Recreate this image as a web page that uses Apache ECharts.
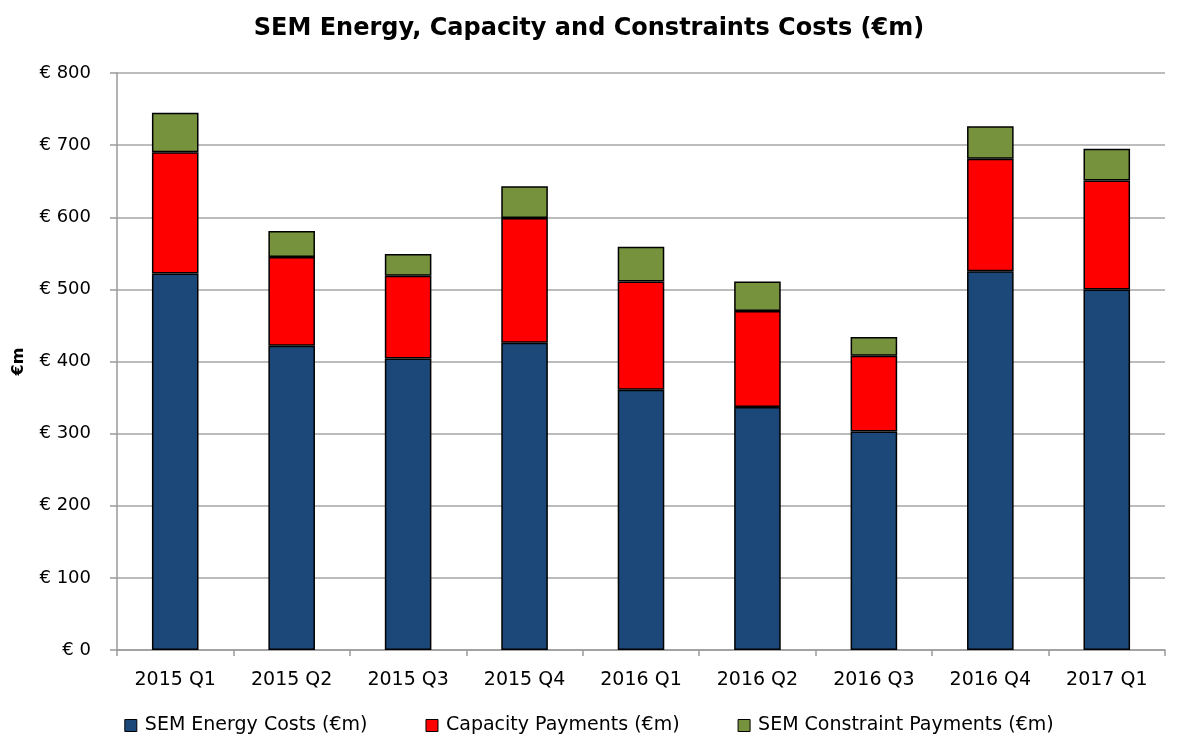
<!DOCTYPE html>
<html>
<head>
<meta charset="utf-8">
<script src="https://cdn.jsdelivr.net/npm/echarts@6/dist/echarts.min.js"></script>
<style>
  html, body { margin: 0; padding: 0; background: #fff; }
  #chart { width: 1178px; height: 742px; }
</style>
</head>
<body>
<div id="chart"></div>
<script>
var quarters = ['2015 Q1', '2015 Q2', '2015 Q3', '2015 Q4', '2016 Q1', '2016 Q2', '2016 Q3', '2016 Q4', '2017 Q1']
var energyCosts = [522, 422, 404, 426, 361, 337, 303, 525, 500]
var capacityPayments = [168, 123, 115, 173, 150, 133, 105, 156, 151]
var constraintPayments = [55, 36, 30, 44, 48, 41, 26, 45, 44]
var seriesNames = ['SEM Energy Costs (€m)', 'Capacity Payments (€m)', 'SEM Constraint Payments (€m)']
var colors = ['#1b4878', '#ff0000', '#76923c']

var font = 'DejaVu Sans'
var chart = echarts.init(document.getElementById('chart'))

function barSeries(name, data, color) {
  return {
    name: name,
    type: 'bar',
    stack: 'total',
    barWidth: '40%',
    data: data,
    itemStyle: { color: color, borderColor: '#000', borderWidth: 1.5 }
  }
}

chart.setOption({
  animation: false,
  title: {
    text: 'SEM Energy, Capacity and Constraints Costs (€m)',
    left: 'center',
    top: 12,
    textStyle: { fontFamily: font, fontSize: 24, fontWeight: 'bold', color: '#000' }
  },
  legend: {
    bottom: 2,
    left: 'center',
    itemWidth: 12,
    itemHeight: 12,
    itemGap: 58,
    icon: 'rect',
    textStyle: { fontFamily: font, fontSize: 19, color: '#000', padding: [0, 0, 0, 3] },
    data: seriesNames.map(function (n, i) {
      return { name: n, itemStyle: { color: colors[i], borderColor: '#000', borderWidth: 1 } }
    })
  },
  grid: { left: 117, right: 13, top: 73, bottom: 92 },
  xAxis: {
    type: 'category',
    data: quarters,
    axisLine: { lineStyle: { color: '#9a9a9a', width: 1.5 } },
    axisTick: { show: true, length: 6, lineStyle: { color: '#9a9a9a', width: 1.5 } },
    axisLabel: { fontFamily: font, fontSize: 19, color: '#000', margin: 21 }
  },
  yAxis: {
    type: 'value',
    min: 0,
    max: 800,
    interval: 100,
    name: '€m',
    nameLocation: 'middle',
    nameGap: 90,
    nameTextStyle: { fontFamily: font, fontSize: 16, fontWeight: 'bold', color: '#000' },
    axisLine: { show: true, lineStyle: { color: '#9a9a9a', width: 1.5 } },
    axisTick: { show: true, length: 7, lineStyle: { color: '#9a9a9a', width: 1.5 } },
    axisLabel: {
      fontFamily: font, fontSize: 18, color: '#000', margin: 26,
      formatter: function (v) { return '€ ' + v }
    },
    splitLine: { lineStyle: { color: '#a6a6a6', width: 1.5 } }
  },
  series: [
    barSeries(seriesNames[0], energyCosts, colors[0]),
    barSeries(seriesNames[1], capacityPayments, colors[1]),
    barSeries(seriesNames[2], constraintPayments, colors[2])
  ]
})
</script>
</body>
</html>
